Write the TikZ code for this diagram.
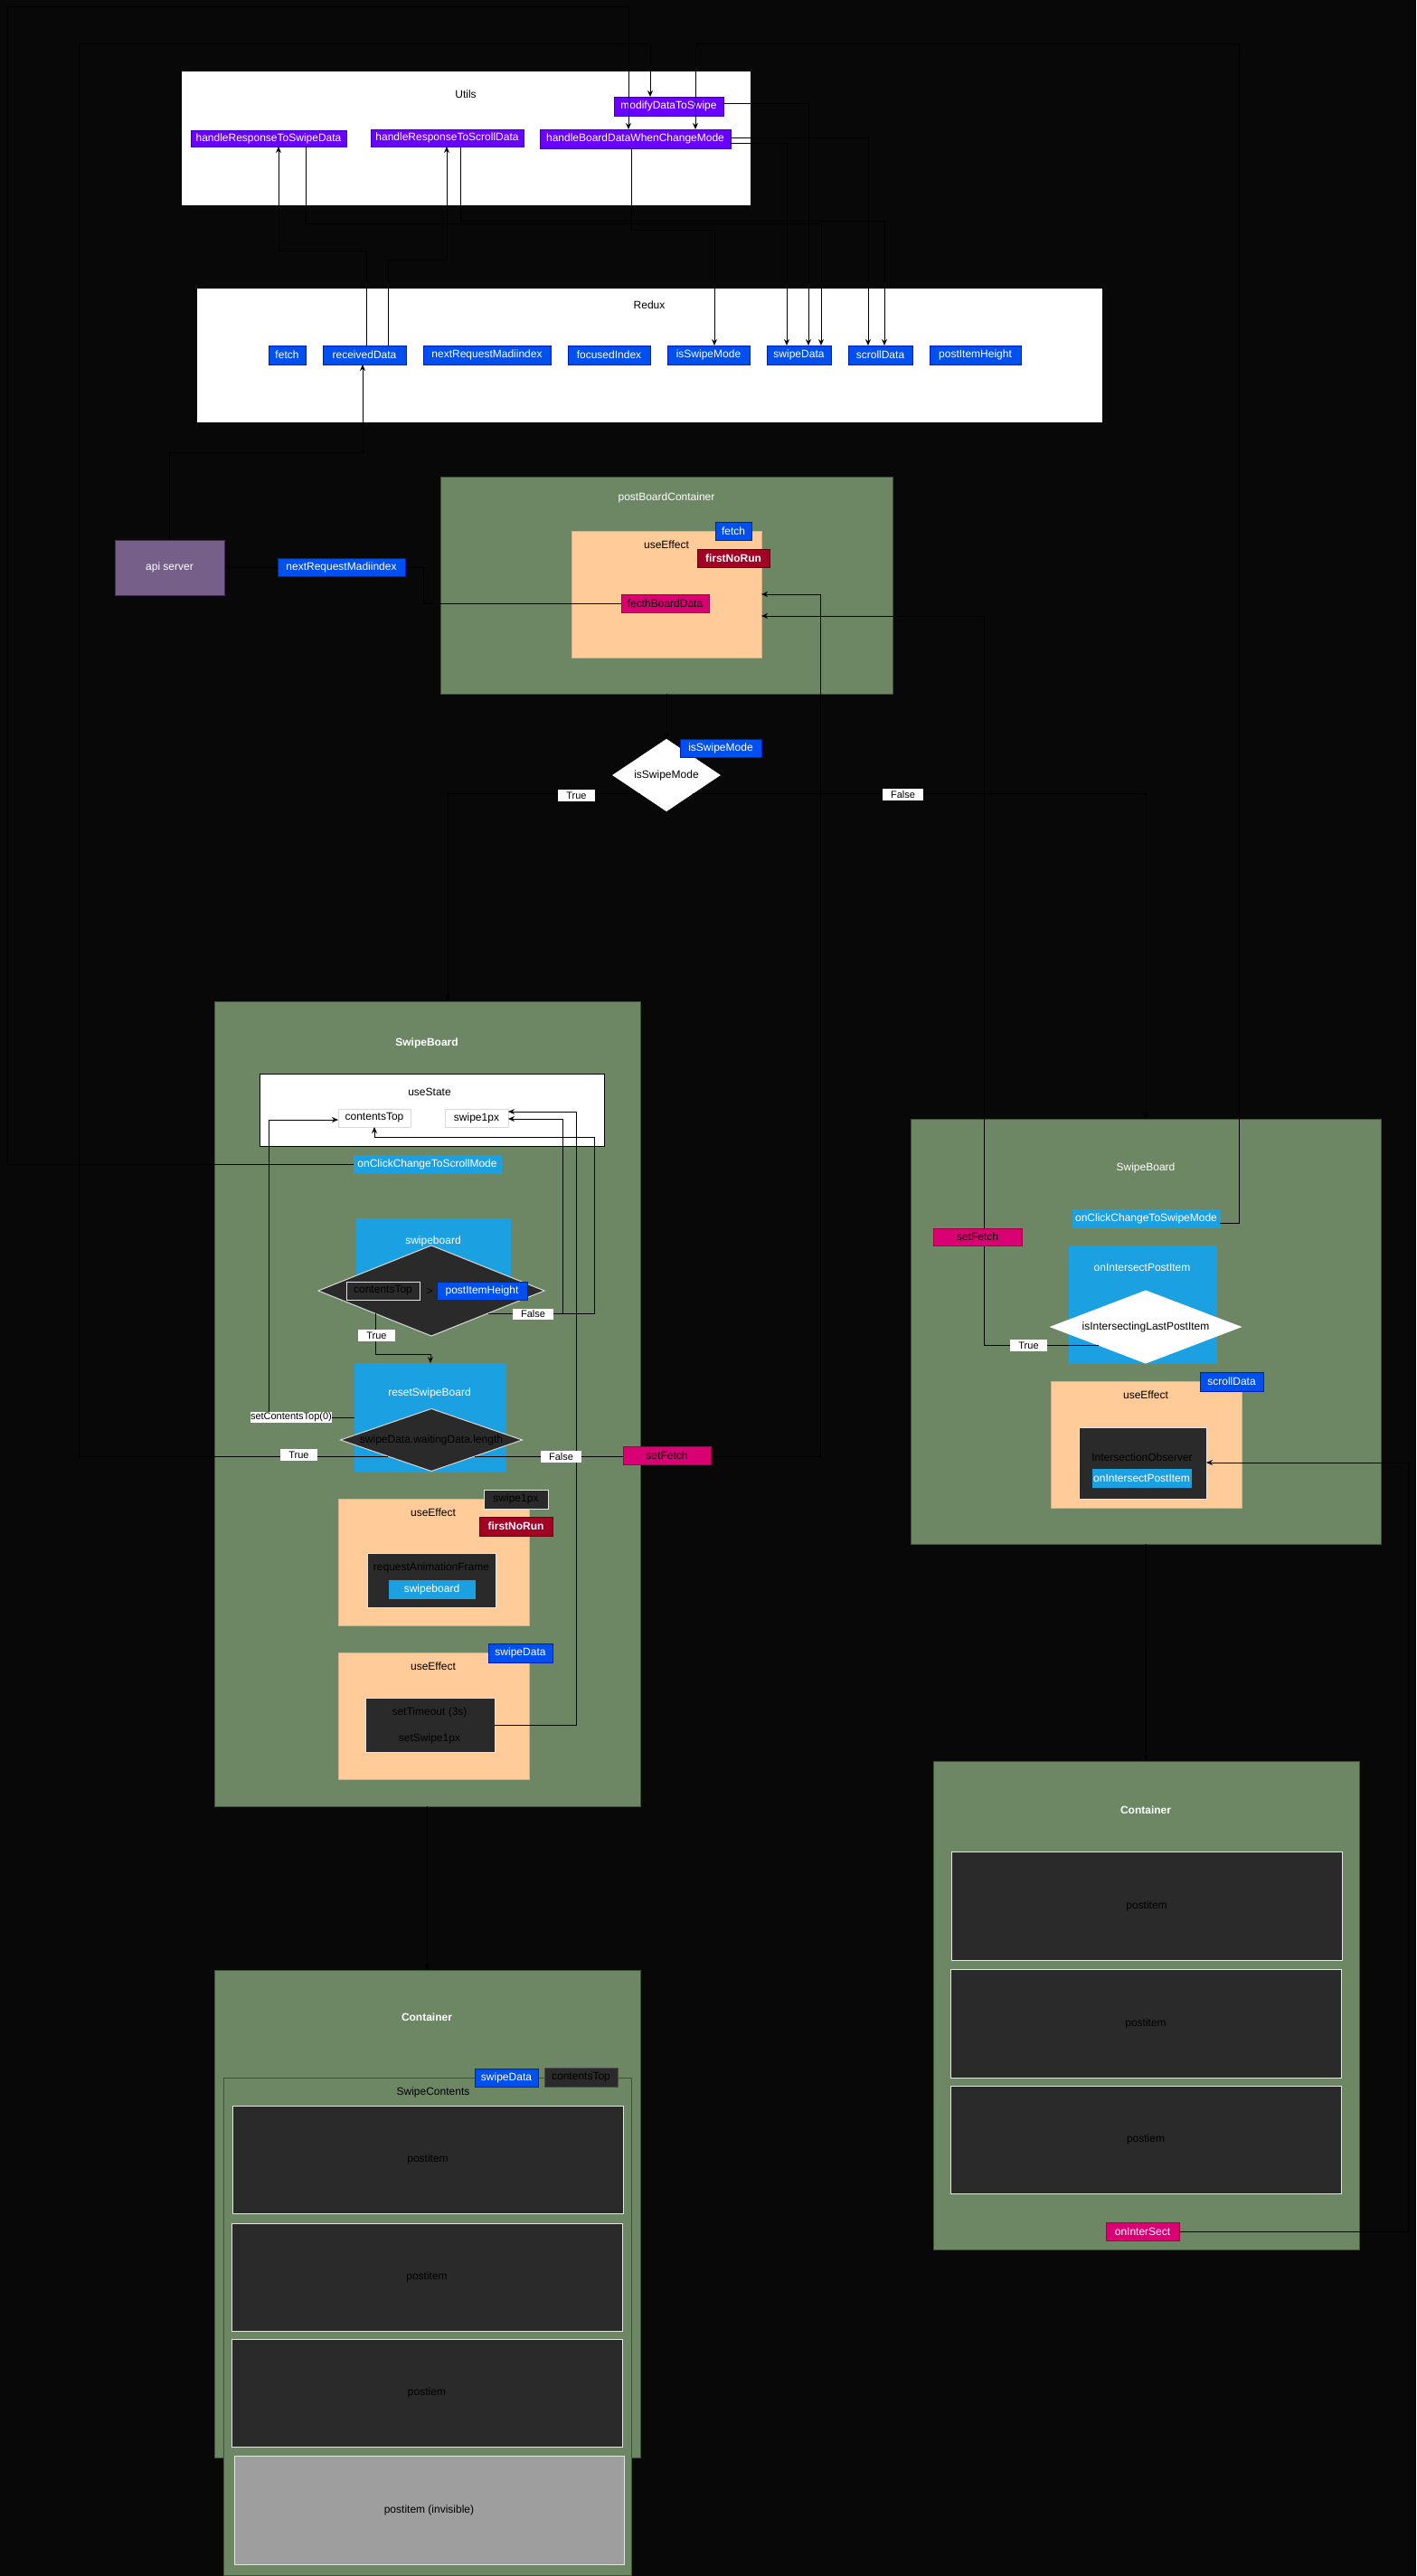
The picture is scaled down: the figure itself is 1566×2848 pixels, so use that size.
\documentclass[tikz,border=0pt]{standalone}
\usepackage{fontspec}
\setmainfont{Liberation Sans}
\usetikzlibrary{arrows.meta,shapes.geometric}
\definecolor{bgc}{HTML}{080808}
\definecolor{purp}{HTML}{6A00FF}
\definecolor{purpB}{HTML}{3700CC}
\definecolor{rblue}{HTML}{0050EF}
\definecolor{rblueB}{HTML}{001DBC}
\definecolor{grn}{HTML}{6D8764}
\definecolor{grnB}{HTML}{3A5431}
\definecolor{orng}{HTML}{FFCC99}
\definecolor{orngB}{HTML}{D4B08C}
\definecolor{crim}{HTML}{A20025}
\definecolor{crimB}{HTML}{6F0000}
\definecolor{pnk}{HTML}{D80073}
\definecolor{pnkB}{HTML}{A50040}
\definecolor{lblue}{HTML}{1BA1E2}
\definecolor{dk}{HTML}{2A2A2A}
\definecolor{apiv}{HTML}{76608A}
\definecolor{apivB}{HTML}{432D57}
\definecolor{gry}{HTML}{9E9E9E}
\newcommand{\fsz}[1]{\fontsize{#1}{#1}\selectfont}
\newcommand{\bx}[7]{\node[#2,anchor=north west,minimum width={#5-#3},minimum height={#6-#4}] (#1) at (#3,#4) {#7};}
\newcommand{\tx}[5]{\node[#2] (#1) at (#3,#4) {#5};}
\begin{document}
\begin{tikzpicture}[x=1pt,y=-1pt,
  every node/.style={inner sep=0pt,outer sep=0pt,font=\fsz{12}},
  wbox/.style={draw=black,fill=white,line width=1pt},
  cont/.style={draw=grnB,fill=grn,line width=1pt},
  orbox/.style={draw=orngB,fill=orng,line width=1pt},
  tagP/.style={draw=purpB,fill=purp,text=white,line width=1pt},
  tagB/.style={draw=rblueB,fill=rblue,text=white,line width=1pt},
  tagR/.style={draw=crimB,fill=crim,text=white,line width=1pt,font=\fsz{12}\bfseries},
  tagK/.style={draw=pnkB,fill=pnk,text=black,line width=1pt},
  tagKw/.style={draw=pnkB,fill=pnk,text=white,line width=1pt},
  tagL/.style={draw=lblue,fill=lblue,text=white,line width=1pt},
  dkbox/.style={draw=white!90!black,fill=dk,text=black,line width=1pt},
  dktag/.style={draw=white!90!black,fill=dk,text=black,line width=1pt},
  dktag2/.style={draw=black!70,fill=dk,text=black,line width=1pt},
  sbox/.style={draw=white!85!black,fill=white,text=black,line width=0.8pt},
  apibox/.style={draw=apivB,fill=apiv,text=white,line width=1pt},
  grbox/.style={draw=white!90!black,fill=gry,text=black,line width=1pt},
  lbl/.style={fill=white,text=black,font=\fsz{11}},
  txtk/.style={text=black},
  txtw/.style={text=white},
  txtwb/.style={text=white,font=\fsz{12}\bfseries},
  dia/.style={diamond,inner sep=0pt,line width=1pt},
  conn/.style={draw=black,line width=1pt},
  arr/.style={conn,-{Stealth[length=7pt,width=6pt]}}
]
\fill[bgc] (0,0) rectangle (1566,2848);
\useasboundingbox (0,0) rectangle (1566,2848);

% ---------- Utils ----------
\bx{utils}{wbox}{200}{78}{830}{227}{}
\tx{utilsT}{txtk}{515}{104}{Utils}
\bx{mod}{tagP}{679}{107}{800}{128}{modifyDataToSwipe}
\bx{hrsw}{tagP}{211}{144}{383}{162}{handleResponseToSwipeData}
\bx{hrsc}{tagP}{410}{143}{579}{162}{handleResponseToScrollData}
\bx{hbd}{tagP}{597}{143}{808}{164}{handleBoardDataWhenChangeMode}

% ---------- Redux ----------
\bx{redux}{wbox}{217}{318}{1219}{467}{}
\tx{reduxT}{txtk}{718}{337}{Redux}
\bx{rfetch}{tagB}{297}{382}{338}{403}{fetch}
\bx{rrecv}{tagB}{357}{382}{449}{403}{receivedData}
\bx{rnext}{tagB}{468}{382}{609}{403}{nextRequestMadiindex}
\bx{rfocus}{tagB}{628}{382}{719}{403}{focusedIndex}
\bx{rmode}{tagB}{738}{382}{829}{403}{isSwipeMode}
\bx{rswipe}{tagB}{848}{382}{919}{403}{swipeData}
\bx{rscroll}{tagB}{938}{382}{1009}{403}{scrollData}
\bx{rheight}{tagB}{1028}{382}{1129}{403}{postItemHeight}

% ---------- api server / postBoardContainer ----------
\bx{api}{apibox}{127}{597}{248}{658}{api server}
\bx{pbc}{cont}{487}{527}{987}{767}{}
\tx{pbcT}{txtw}{737}{550}{postBoardContainer}
\bx{ue1}{orbox}{632}{587}{842}{727}{}
\tx{ue1T}{txtk}{737}{602}{useEffect}
\bx{fetch1}{tagB}{791}{577}{831}{597}{fetch}
\bx{fnr1}{tagR}{771}{607}{851}{627}{firstNoRun}
\bx{fbd}{tagK}{687}{657}{784}{677}{fecthBoardData}

% ---------- isSwipeMode decision ----------
\node[dia,fill=white,draw=white,minimum width=118,minimum height=79] (dmode) at (737,857) {};
\tx{dmodeT}{txtk}{737}{857}{isSwipeMode}
\bx{dmodeTag}{tagB}{752}{817}{842}{837}{isSwipeMode}

% ---------- Left SwipeBoard ----------
\bx{sbL}{cont}{237}{1107}{708}{1997}{}
\tx{sbLT}{txtwb}{472}{1153}{SwipeBoard}
\bx{ustate}{wbox}{287}{1187}{668}{1267}{}
\tx{ustateT}{txtk}{475}{1207}{useState}
\bx{ctop}{sbox}{374}{1226}{454}{1246}{contentsTop}
\bx{s1px}{sbox}{492}{1226}{562}{1246}{swipe1px}
\bx{oncs}{tagL}{391}{1277}{554}{1297}{onClickChangeToScrollMode}
\bx{swb}{tagL}{394}{1347}{564}{1440}{}
\tx{swbT}{txtw}{479}{1372}{swipeboard}
\node[dia,fill=dk,draw=white!85!black,minimum width=250,minimum height=100] (d1) at (477,1427) {};
\bx{d1ct}{dktag}{383}{1417}{464}{1437}{contentsTop}
\tx{d1gt}{txtk}{475}{1428}{>}
\bx{d1pih}{tagB}{483}{1417}{583}{1437}{postItemHeight}
\bx{rsb}{tagL}{392}{1507}{559}{1627}{}
\tx{rsbT}{txtw}{475}{1540}{resetSwipeBoard}
\node[dia,fill=dk,draw=white!85!black,minimum width=201,minimum height=69] (d2) at (477,1592) {};
\tx{d2T}{txtk}{477}{1592}{swipeData.waitingData.length}
\bx{ue2}{orbox}{374}{1657}{585}{1797}{}
\tx{ue2T}{txtk}{479}{1672}{useEffect}
\bx{s1pxTag}{dktag}{535}{1647}{606}{1668}{swipe1px}
\bx{fnr2}{tagR}{530}{1677}{611}{1698}{firstNoRun}
\bx{raf}{dkbox}{406}{1717}{548}{1777}{}
\tx{rafT}{txtk}{477}{1733}{requestAnimationFrame}
\bx{rafSw}{tagL}{430}{1747}{525}{1767}{swipeboard}
\bx{ue3}{orbox}{374}{1827}{585}{1967}{}
\tx{ue3T}{txtk}{479}{1842}{useEffect}
\bx{sdTag}{tagB}{540}{1817}{611}{1838}{swipeData}
\bx{sto}{dkbox}{404}{1877}{547}{1937}{}
\tx{stoT1}{txtk}{475}{1893}{setTimeout (3s)}
\tx{stoT2}{txtk}{475}{1922}{setSwipe1px}

% ---------- Left Container ----------
\bx{cL}{cont}{237}{2178}{708}{2717}{}
\tx{cLT}{txtwb}{472}{2230}{Container}
\bx{sc}{cont}{247}{2297}{698}{2847}{}
\tx{scT}{txtk}{479}{2313}{SwipeContents}
\bx{scSd}{tagB}{525}{2287}{595}{2307}{swipeData}
\bx{scCt}{dktag2}{602}{2286}{683}{2307}{contentsTop}
\bx{pi1}{dkbox}{257}{2328}{689}{2447}{postitem}
\bx{pi2}{dkbox}{256}{2458}{688}{2577}{postitem}
\bx{pi3}{dkbox}{256}{2586}{688}{2705}{postiem}
\bx{pi4}{grbox}{259}{2715}{690}{2835}{postitem (invisible)}

% ---------- Right SwipeBoard ----------
\bx{sbR}{cont}{1007}{1237}{1527}{1707}{}
\tx{sbRT}{txtw}{1267}{1291}{SwipeBoard}
\bx{ocsw}{tagL}{1186}{1337}{1349}{1357}{onClickChangeToSwipeMode}
\bx{oip}{tagL}{1182}{1377}{1345}{1507}{}
\tx{oipT}{txtw}{1263}{1401}{onIntersectPostItem}
\node[dia,fill=white,draw=white,minimum width=210,minimum height=80] (d3) at (1267,1467) {};
\tx{d3T}{txtk}{1267}{1467}{isIntersectingLastPostItem}
\bx{ue4}{orbox}{1162}{1527}{1373}{1667}{}
\tx{ue4T}{txtk}{1267}{1542}{useEffect}
\bx{sdTag2}{tagB}{1327}{1517}{1397}{1538}{scrollData}
\bx{io}{dkbox}{1193}{1578}{1334}{1657}{}
\tx{ioT}{txtk}{1263}{1611}{IntersectionObserver}
\bx{ioIn}{tagL}{1208}{1624}{1317}{1644}{onIntersectPostItem}

% ---------- Right Container ----------
\bx{cR}{cont}{1032}{1947}{1503}{2487}{}
\tx{cRT}{txtwb}{1267}{2001}{Container}
\bx{pr1}{dkbox}{1052}{2047}{1484}{2167}{postitem}
\bx{pr2}{dkbox}{1051}{2177}{1483}{2297}{postitem}
\bx{pr3}{dkbox}{1051}{2306}{1483}{2425}{postiem}
\bx{onis}{tagKw}{1223}{2457}{1304}{2477}{onInterSect}

% ---------- exit points on decisions ----------
\coordinate (dmL) at (708,877);
\coordinate (dmR) at (766,877);
\coordinate (d1T) at (415,1452);
\coordinate (d1F) at (540,1452);
\coordinate (d2L) at (429,1610);
\coordinate (d2R) at (525,1610);
\coordinate (d3L) at (1215,1487);

% ---------- connectors ----------
\draw[arr] (oncs.west) -- (8,1287) -- (8,7) -- (695,7) -- (hbd.north -| 695,0);
\draw[arr] (d2L) -- (87,1610) -- (87,48) -- (719,48) -- (mod.north -| 719,0);
\draw[arr] (d2R) -- (907,1610) -- (907,657) -- (ue1.east |- 0,657);
\draw[arr] (ocsw.east |- 0,1352) -- (1370,1352) -- (1370,48) -- (769,48) -- (hbd.north -| 769,0);
\draw[arr] (mod.east |- 0,114) -- (894,114) -- (rswipe.north -| 894,0);
\draw[arr] (hbd.east |- 0,152) -- (960,152) -- (rscroll.north -| 960,0);
\draw[arr] (hbd.east |- 0,158) -- (870,158) -- (rswipe.north -| 870,0);
\draw[arr] (hrsw.south -| 338,0) -- (338,247) -- (908,247) -- (rswipe.north -| 908,0);
\draw[arr] (hrsc.south -| 509,0) -- (509,244) -- (978,244) -- (rscroll.north -| 978,0);
\draw[arr] (hbd.south -| 698,0) -- (698,254) -- (790,254) -- (rmode.north -| 790,0);
\draw[arr] (rrecv.north -| 405,0) -- (405,277) -- (308,277) -- (hrsw.south -| 308,0);
\draw[arr] (rrecv.north -| 429,0) -- (429,287) -- (494,287) -- (hrsc.south -| 494,0);
\draw[arr] (api.north -| 187,0) -- (187,500) -- (401,500) -- (rrecv.south -| 401,0);
\draw[arr] (fbd.west) -- (468,667) -- (468,627) -- (api.east |- 0,627);
\draw[arr] (pbc.south) -- (dmode.north);
\draw[arr] (dmL) -- (495,877) -- (sbL.north -| 495,0);
\draw[arr] (dmR) -- (1267,877) -- (sbR.north -| 1267,0);
\draw[arr] (d3L) -- (1088,1487) -- (1088,681) -- (ue1.east |- 0,681);
\draw[arr] (onis.east) -- (1557,2467) -- (1557,1617) -- (io.east |- 0,1617);
\draw[arr] (sbL.south) -- (cL.north);
\draw[arr] (sbR.south) -- (cR.north);
\draw[arr] (d1T) -- (415,1497) -- (476,1497) -- (rsb.north -| 476,0);
\draw[arr] (d1F) -- (622,1452) -- (622,1237) -- (s1px.east |- 0,1237);
\draw[arr] (d1F) -- (657,1452) -- (657,1257) -- (414,1257) -- (ctop.south -| 414,0);
\draw[arr] (rsb.west |- 0,1567) -- (297,1567) -- (297,1238) -- (ctop.west |- 0,1238);
\draw[arr] (sto.east) -- (637,1907) -- (637,1229) -- (s1px.east |- 0,1229);

% ---------- edge labels ----------
\bx{nrmi}{tagB}{307}{617}{448}{637}{nextRequestMadiindex}
\bx{lT1}{lbl}{617}{873}{658}{886}{True}
\bx{lF1}{lbl}{976}{872}{1021}{885}{False}
\bx{lF2}{lbl}{567}{1447}{612}{1459}{False}
\bx{lT2}{lbl}{396}{1470}{437}{1483}{True}
\bx{lsct}{lbl}{277}{1561}{366}{1573}{setContentsTop(0)}
\bx{lT3}{lbl}{310}{1602}{351}{1615}{True}
\bx{lF3}{lbl}{598}{1604}{643}{1617}{False}
\bx{sfL}{tagK}{689}{1599}{786}{1619}{setFetch}
\bx{sfR}{tagK}{1032}{1358}{1130}{1377}{setFetch}
\bx{lT4}{lbl}{1117}{1481}{1158}{1494}{True}
\end{tikzpicture}
\end{document}
